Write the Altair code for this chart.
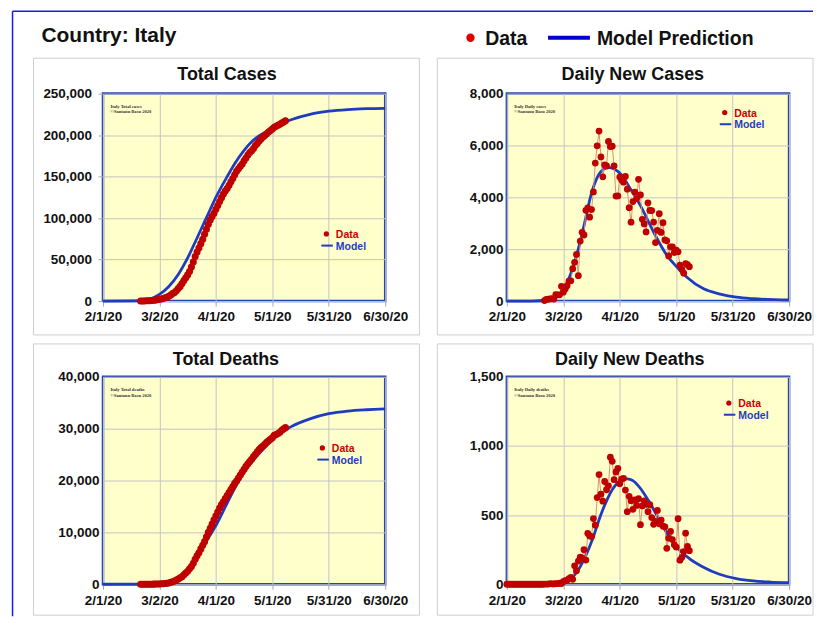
import altair as alt
import pandas as pd

FONT = "Liberation Sans"
BLUE = "#1f3cc0"
FRAME = "#2444b0"
RED = "#c00000"
CONN = "#d9936a"

# x axis: day 0 = 2/1/20
tick_days = [0, 30, 60, 90, 120, 150]
tick_labels = ["2/1/20", "3/2/20", "4/1/20", "5/1/20", "5/31/20", "6/30/20"]

cases_ticks = [0, 50000, 100000, 150000, 200000, 250000]
daily_cases_ticks = [0, 2000, 4000, 6000, 8000]
deaths_ticks = [0, 10000, 20000, 30000, 40000]
daily_deaths_ticks = [0, 500, 1000, 1500]

# observed series (first value on 2/21/20 = day 20)
obs_start = 20
total_cases = [20, 79, 150, 229, 322, 400, 650, 888, 1128,
               1694, 2036, 2502, 3089, 3858, 4636, 5883, 7375, 9172, 10149,
               12462, 15113, 17660, 21157, 24747, 27980, 31506, 35713, 41035, 47021,
               53578, 59138, 63927, 69176, 74386, 80539, 86498, 92472, 97689, 101739, 105792,
               110574, 115242, 119827, 124632, 128948, 132547, 135586, 139422, 143626, 147577,
               152271, 156363, 159516, 162488, 165155, 168941, 172434, 175925, 178972, 181228,
               183957, 187327, 189973, 192994, 195351, 197675, 199414, 201505, 203591, 205463,
               207428, 209328, 210717, 211938, 213013, 214457, 215858, 217185]
daily_cases = [17, 59, 71, 79, 93, 78, 250, 238, 240,
               566, 342, 466, 587, 769, 778, 1247, 1492, 1797, 977,
               2313, 2651, 2547, 3497, 3590, 3233, 3526, 4207, 5322, 5986,
               6557, 5560, 4789, 5249, 5210, 6153, 5959, 5974, 5217, 4050, 4053,
               4782, 4668, 4585, 4805, 4316, 3599, 3039, 3836, 4204, 3951,
               4694, 4092, 3153, 2972, 2667, 3786, 3493, 3491, 3047, 2256,
               2729, 3370, 2646, 3021, 2357, 2324, 1739, 2091, 2086, 1872,
               1965, 1900, 1389, 1221, 1075, 1444, 1401, 1327]
total_deaths = [1, 2, 3, 7, 10, 12, 17, 21, 29,
                34, 52, 79, 107, 148, 197, 233, 366, 463, 631,
                827, 1016, 1266, 1441, 1809, 2158, 2503, 2978, 3405, 4032,
                4825, 5476, 6077, 6820, 7503, 8215, 9134, 10023, 10779, 11591, 12428,
                13155, 13915, 14681, 15362, 15887, 16523, 17127, 17669, 18279, 18849,
                19468, 19899, 20465, 21067, 21645, 22170, 22745, 23227, 23660, 24114,
                24648, 25085, 25549, 25969, 26384, 26644, 26977, 27359, 27682, 27967,
                28236, 28710, 28884, 29079, 29315, 29684, 29958, 30201]
# daily deaths are plotted from 2/1/20 (day 0)
daily_deaths_start = 0
daily_deaths = [0, 0, 0, 0, 0, 0, 0, 0, 0, 0, 0, 0, 0, 0, 0, 0, 0, 0, 0, 0,
                1, 1, 1, 4, 3, 2, 5, 4, 8,
                5, 18, 27, 28, 41, 49, 36, 133, 97, 168,
                196, 189, 250, 175, 368, 349, 345, 475, 427, 627,
                793, 651, 601, 743, 683, 712, 919, 889, 756, 812, 837,
                727, 760, 766, 681, 525, 636, 604, 542, 610, 570,
                619, 431, 566, 602, 578, 525, 575, 482, 433, 454,
                534, 437, 464, 420, 415, 260, 333, 382, 323, 285,
                269, 474, 174, 195, 236, 369, 274, 243]

# model curves
m_tc_day = [0, 20, 25, 30, 35, 40, 45, 50, 55, 60, 66, 70, 75, 80, 84, 90, 95, 100, 110, 120, 130, 140, 150]
m_tc_val = [0, 500, 2500, 8000, 17500, 32000, 52000, 76000, 100500, 125000, 150000, 165500, 181500,
            194000, 200500, 208000, 214000, 218500, 225000, 228800, 230800, 231800, 232300]
m_dc_day = [0, 13, 22, 27, 30, 34, 37.5, 41, 44.6, 48, 51.6, 54.3, 57, 60.5, 65.7, 71, 78, 85, 90.4,
            95.7, 104.6, 113.4, 122, 131, 150]
m_dc_val = [0, 0, 30, 190, 430, 1060, 1880, 2910, 4060, 4760, 5090, 5150, 5090, 4900, 4320, 3680,
            2660, 1770, 1310, 920, 470, 270, 150, 90, 40]
m_td_day = [0, 25, 30, 35, 40, 45, 50, 55, 60, 65, 70, 75, 80, 85, 90, 95, 100, 110, 120, 130, 140, 150]
m_td_val = [0, 30, 100, 250, 900, 2600, 5200, 8300, 11300, 14900, 18500, 21600, 24000, 26000, 27800,
            29300, 30400, 31900, 32900, 33400, 33650, 33800]
m_dd_day = [0, 20, 25, 30, 35, 38, 42, 46, 49, 53, 56, 60, 64, 67, 70, 76, 81, 86, 92, 97, 104, 113,
            122, 131, 140, 150]
m_dd_val = [0, 1, 6, 18, 53, 105, 209, 343, 467, 603, 683, 745, 762, 749, 710, 589, 465, 350, 243,
            186, 127, 72, 41, 24, 16, 12]

W, H = 283, 208
ONE = pd.DataFrame({"k": [0]})
LABEL_EXPR = "[" + ",".join("'%s'" % t for t in tick_labels) + "][indexof(" + str(tick_days) + ", datum.value)]"


def txt(s, x, y, size, color="#111111", align="left", font=FONT, weight="bold", baseline="alphabetic", **kw):
    return alt.Chart(ONE).mark_text(text=s, font=font, fontSize=size, fontWeight=weight, color=color,
                                    align=align, baseline=baseline, **kw).encode(
        x=alt.value(x), y=alt.value(y))


def panel(title, wm, yticks, ddays, dvals, mdays, mvals, connect, g, extra=None):
    df_d = pd.DataFrame({"day": ddays, "value": dvals})
    df_m = pd.DataFrame({"day": mdays, "value": mvals})
    x = alt.X("day:Q", scale=alt.Scale(domain=[0, 150], nice=False, zero=False),
              axis=alt.Axis(values=tick_days, labelExpr=LABEL_EXPR, title=None, tickSize=5,
                            labelPadding=4, grid=True))
    y = alt.Y("value:Q", scale=alt.Scale(domain=[yticks[0], yticks[-1]], nice=False),
              axis=alt.Axis(values=yticks, format=",d", title=None, tickSize=g["ytick"],
                            labelPadding=g["ypad"], grid=True))
    layers = []
    layers.append(alt.Chart(ONE).mark_rect(fillOpacity=0, stroke="#cfcfcf", strokeWidth=1).encode(
        x=alt.value(g["bx1"]), x2=alt.value(g["bx2"]), y=alt.value(g["by1"]), y2=alt.value(g["by2"])))
    layers.append(alt.Chart(df_m).mark_line(color=BLUE, strokeWidth=2.8, interpolate="monotone").encode(x=x, y=y))
    if connect:
        layers.append(alt.Chart(df_d).mark_line(color=CONN, strokeWidth=1).encode(x=x, y=y))
    layers.append(alt.Chart(df_d).mark_circle(size=g["ds"], color=RED, opacity=1).encode(x=x, y=y))
    layers.append(txt(title, g["tx"], g["ty"], 18, align="center"))
    layers.append(txt(wm, 7.5, 10.5, 4.6, color="#333333", font="Liberation Serif", baseline="top",
                      lineBreak="\n", lineHeight=5.3))
    dx, dy = g["lx"], g["ly"]
    layers.append(alt.Chart(ONE).mark_circle(size=28, color=RED, opacity=1).encode(
        x=alt.value(dx), y=alt.value(dy)))
    layers.append(txt("Data", dx + 9.5, dy + 4, 10.5, color="#cc0000"))
    layers.append(alt.Chart(ONE).mark_rule(color=BLUE, strokeWidth=2).encode(
        x=alt.value(dx - 5), x2=alt.value(dx + 6.5), y=alt.value(dy + 11.7)))
    layers.append(txt("Model", dx + 9.5, dy + 15.8, 10.5, color=BLUE))
    if extra:
        layers.extend(extra)
    return alt.layer(*layers).properties(
        width=W, height=H,
        view=alt.ViewBackground(fill="#ffffcc", stroke=FRAME, strokeWidth=2.5))


# header (drawn inside the top-left panel, positions relative to its plot area)
header = [
    alt.Chart(ONE).mark_rule(color="#1a1ae6", strokeWidth=1.5).encode(
        x=alt.value(-90.7), x2=alt.value(712), y=alt.value(-82.7)),
    alt.Chart(ONE).mark_rule(color="#1a1ae6", strokeWidth=1.5).encode(
        x=alt.value(-90.7), y=alt.value(-82.7), y2=alt.value(524)),
    txt("Country: Italy", -61.7, -52, 21),
    alt.Chart(ONE).mark_circle(size=70, color="#e00000", opacity=1).encode(
        x=alt.value(368.5), y=alt.value(-56)),
    txt("Data", 383.3, -49, 19.5),
    alt.Chart(ONE).mark_rule(color="#0000cc", strokeWidth=4).encode(
        x=alt.value(446.3), x2=alt.value(488.3), y=alt.value(-56)),
    txt("Model Prediction", 495.3, -49, 19.5),
]

top_geom = dict(by1=-35.5, by2=242, ty=-14)
bot_geom = dict(by1=-33, by2=239, ty=-12)

tl = panel("Total Cases", "Italy Total cases\n\u00a9Santanu Basu 2020", cases_ticks,
           list(range(obs_start, obs_start + len(total_cases))), total_cases, m_tc_day, m_tc_val, False,
           dict(top_geom, bx1=-69.7, bx2=317.3, tx=124.3, ytick=5, ypad=6.5, lx=224, ly=140.7, ds=50),
           extra=header)
tr = panel("Daily New Cases", "Italy Daily cases\n\u00a9Santanu Basu 2020", daily_cases_ticks,
           list(range(obs_start, obs_start + len(daily_cases))), daily_cases, m_dc_day, m_dc_val, True,
           dict(top_geom, bx1=-69.7, bx2=307, tx=126.3, ytick=0, ypad=4, lx=218.5, ly=19, ds=46))
bl = panel("Total Deaths", "Italy Total deaths\n\u00a9Santanu Basu 2020", deaths_ticks,
           list(range(obs_start, obs_start + len(total_deaths))), total_deaths, m_td_day, m_td_val, False,
           dict(bot_geom, bx1=-69.7, bx2=317.3, tx=123.3, ytick=0, ypad=4, lx=220, ly=71.3, ds=50))
br = panel("Daily New Deaths", "Italy Daily deaths\n\u00a9Santanu Basu 2020", daily_deaths_ticks,
           list(range(daily_deaths_start, daily_deaths_start + len(daily_deaths))), daily_deaths,
           m_dd_day, m_dd_val, True,
           dict(bot_geom, bx1=-69.7, bx2=307, tx=123.3, ytick=0, ypad=4, lx=222.6, ly=26.3, ds=46))

chart = alt.concat(tl, tr, bl, br, columns=2,
                   spacing=alt.RowColnumber(row=76, column=122), bounds="flush").properties(
    padding={"left": 2.25, "top": 0, "right": 0, "bottom": 0},
    background="white",
).configure_axis(
    labelFont=FONT, labelFontWeight="bold", labelFontSize=13.5, labelColor="#111111",
    gridColor="#c4c4c4", gridWidth=1, tickColor="#a8a8a8", domain=False,
    labelFlush=False, labelOverlap=False, labelBound=False,
).configure_view(stroke=None)

chart.save("out.html", embed_options={"renderer": "svg", "actions": False})
